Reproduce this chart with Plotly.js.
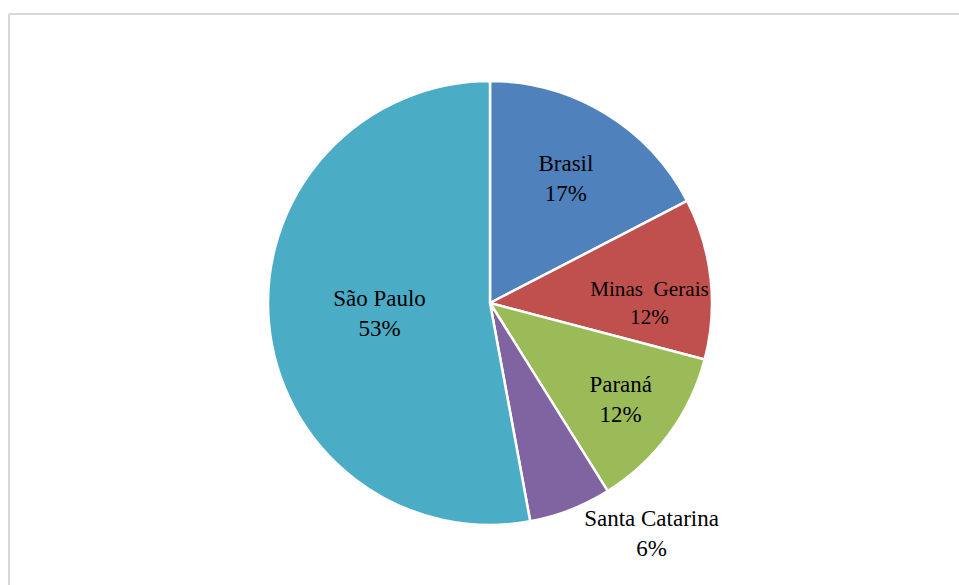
<!DOCTYPE html>
<html>
<head>
<meta charset="utf-8">
<script src="https://cdn.plot.ly/plotly-3.0.1.min.js"></script>
<style>
html,body{margin:0;padding:0;background:#fff;}
#chart{width:959px;height:585px;}
</style>
</head>
<body>
<div id="chart"></div>
<script>
const labels = ["Brasil", "Minas  Gerais", "Paraná", "Santa Catarina", "São Paulo"];
const values = [17.4, 11.7, 12.0, 6.0, 52.9];
const colors = ["#4f81bd", "#c0504d", "#9bbb59", "#8064a2", "#4bacc6"];
const textPositions = ["inside", "inside", "inside", "outside", "inside"];

const serif = "'Times New Roman', 'Liberation Serif', serif";
const trace = {
  type: "pie",
  labels: labels,
  values: values,
  sort: false,
  direction: "clockwise",
  rotation: 0,
  marker: {colors: colors, line: {color: "#ffffff", width: 2.5}},
  textposition: textPositions,
  texttemplate: "%{label}<br>%{percent:.0%}",
  insidetextorientation: "horizontal",
  textfont: {family: serif, size: 23, color: "#000000"},
  insidetextfont: {family: serif, size: 23, color: "#000000"},
  outsidetextfont: {family: serif, size: 23, color: "#000000"},
  domain: {x: [268/959, 712/959], y: [(585-525)/585, (585-81)/585]},
  hoverinfo: "none",
  automargin: false
};

const layout = {
  width: 959,
  height: 585,
  margin: {l: 0, r: 0, t: 0, b: 0},
  paper_bgcolor: "#ffffff",
  showlegend: false,
  font: {family: serif, size: 23},
  shapes: [
    {type: "line", xref: "paper", yref: "paper", x0: 9/959, x1: 1.01, y0: (585-14)/585, y1: (585-14)/585, line: {color: "#d9d9d9", width: 2}},
    {type: "line", xref: "paper", yref: "paper", x0: 9/959, x1: 9/959, y0: -0.01, y1: (585-14)/585, line: {color: "#d9d9d9", width: 2}}
  ]
};

Plotly.newPlot("chart", [trace], layout, {displayModeBar: false, staticPlot: true});
</script>
</body>
</html>
